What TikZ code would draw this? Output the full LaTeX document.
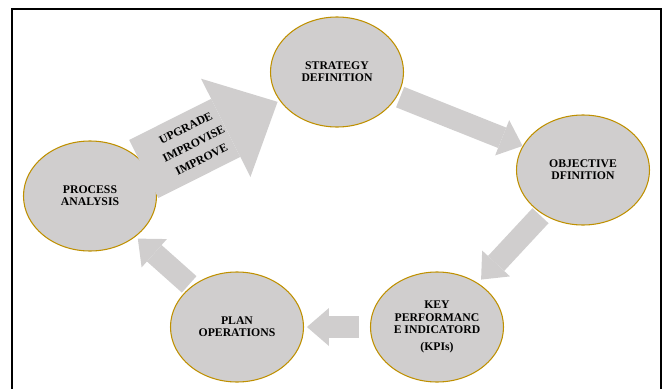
\documentclass[tikz,border=0pt]{standalone}
\usepackage{fontspec}
\setmainfont{Liberation Serif}
\usetikzlibrary{arrows.meta, shapes.geometric}

\definecolor{cyclegray}{HTML}{D0CECE}
\definecolor{cyclegold}{HTML}{BF9000}

\begin{document}
\begin{tikzpicture}[x=0.03cm, y=-0.03cm,
    stage/.style={ellipse, draw=cyclegold, line width=0.9pt, fill=cyclegray,
        minimum width=3.99cm, minimum height=3.3cm, inner sep=0pt, align=center,
        font=\bfseries\fontsize{10}{10.5}\selectfont},
    flow/.style={draw=cyclegray, line width=0.66cm,
        -{Triangle[length=0.66cm, width=1.14cm, line width=0pt]}},
    bigflow/.style={draw=cyclegray, line width=1.95cm,
        -{Triangle[length=1.74cm, width=3.3cm, line width=0pt]}}]

    \useasboundingbox (0,0) rectangle (663,389);

    % --- Frame ---
    \draw[line width=1.5pt] (12,389) -- (12,9) -- (661,9) -- (661,389);

    % --- Nodes ---

    % 1. Strategy (Top)
    \node[stage] (strategy) at (337,72) {STRATEGY\\DEFINITION};

    % 2. Objective (Right)
    \node[stage] (objective) at (583,170) {OBJECTIVE\\DFINITION};

    % 3. KPIs (Bottom Right)
    \node[stage] (kpi) at (437,327) {KEY\\PERFORMANC\\E INDICATORD\\[4pt](KPIs)};

    % 4. Plan (Bottom Left)
    \node[stage] (plan) at (237,327) {PLAN\\OPERATIONS};

    % 5. Process (Left)
    \node[stage] (process) at (90,196) {PROCESS\\ANALYSIS};

    % --- Arrows ---

    % Big arrow with the three words
    \draw[bigflow, shorten <=-3.4pt, shorten >=2pt] (process) -- node[pos=0.35, sloped, text=black, align=center, font=\bfseries\fontsize{10}{15}\selectfont] {UPGRADE\\IMPROVISE\\IMPROVE} (strategy);

    % Round the cycle
    \draw[flow, shorten <=2.5pt] (strategy) -- (objective);
    \draw[flow, shorten <=2pt, shorten >=4pt] (objective) -- (kpi);
    \draw[flow, shorten <=9.4pt, shorten >=2.5pt] (kpi) -- (plan);
    \draw[flow, shorten <=2.5pt, shorten >=2.5pt] (plan) -- (process);

\end{tikzpicture}
\end{document}
